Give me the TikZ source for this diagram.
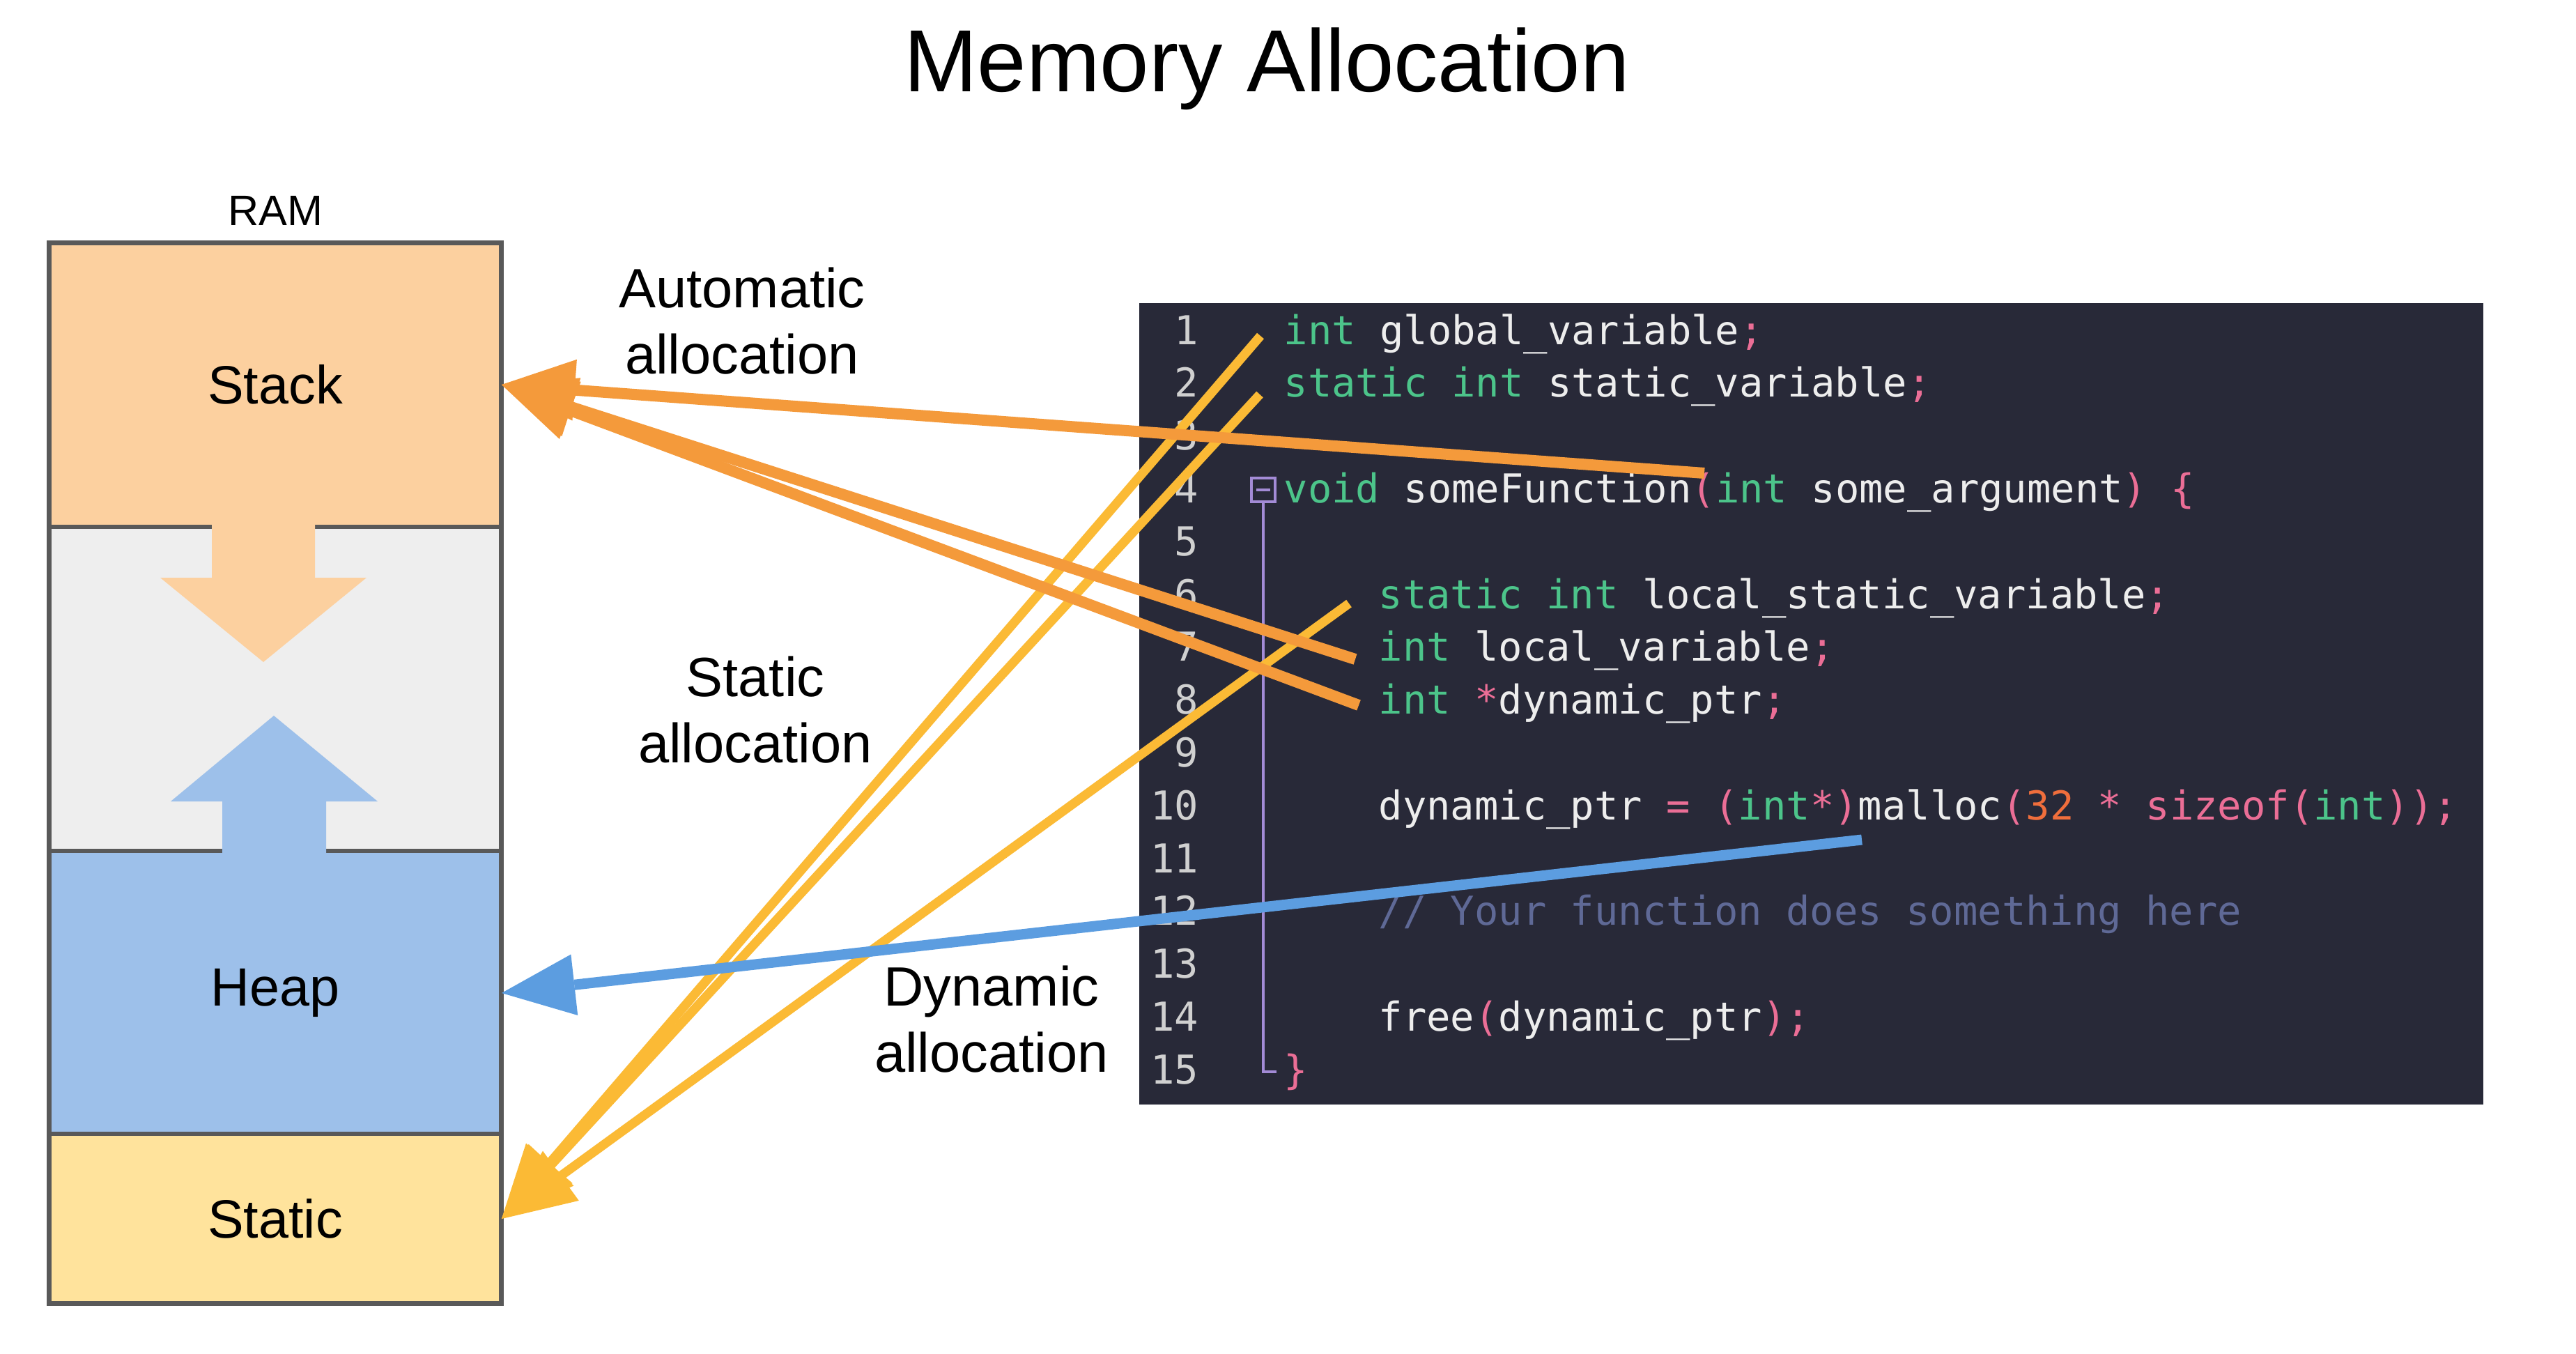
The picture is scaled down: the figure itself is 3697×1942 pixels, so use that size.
\documentclass[tikz,border=0pt]{standalone}
\usepackage{fontspec}
\setmainfont{Liberation Sans}
\newfontfamily\codefont{DejaVu Sans Mono}
\usetikzlibrary{arrows.meta,calc}
\definecolor{stackc}{HTML}{FCD09F}
\definecolor{gapc}{HTML}{EEEEEE}
\definecolor{heapc}{HTML}{9DC0EA}
\definecolor{staticc}{HTML}{FFE39C}
\definecolor{framec}{HTML}{595959}
\definecolor{codebg}{HTML}{282938}
\definecolor{kwc}{HTML}{4CC48A}
\definecolor{pinkc}{HTML}{EB6E96}
\definecolor{numc}{HTML}{F06E3C}
\definecolor{comc}{HTML}{5F6996}
\definecolor{identc}{HTML}{EDEDED}
\definecolor{linenoc}{HTML}{D0D0D0}
\definecolor{foldc}{HTML}{A38BD6}
\definecolor{autoc}{HTML}{F49A3B}
\definecolor{statc}{HTML}{FBBA35}
\definecolor{dync}{HTML}{5C9DE0}
\newcommand{\ckw}[1]{\textcolor{kwc}{#1}}
\newcommand{\cpu}[1]{\textcolor{pinkc}{#1}}
\newcommand{\cnum}[1]{\textcolor{numc}{#1}}
\newcommand{\ccom}[1]{\textcolor{comc}{#1}}
\begin{document}
\begin{tikzpicture}[x=0.01cm,y=-0.01cm,
  region/.style={inner sep=0, minimum width=6.48cm, font=\fontsize{22}{26}\selectfont},
  lbl/.style={inner sep=0, align=center, font=\fontsize{22.6}{27}\selectfont},
  codeline/.style={inner sep=0, anchor=base west, text=identc, font=\codefont\fontsize{16.25}{19}\selectfont},
  lineno/.style={inner sep=0, anchor=base east, text=linenoc, font=\codefont\fontsize{16.25}{19}\selectfont},
  tipshape/.style={-{Triangle[length=1.05cm,width=0.88cm,line width=0pt]}},
  autoline/.style={tipshape, draw=autoc, fill=autoc, line width=0.16cm},
  statline/.style={tipshape, draw=statc, fill=statc, line width=0.13cm},
  dynline/.style={tipshape, draw=dync, fill=dync, line width=0.15cm},
  foldline/.style={draw=foldc, line width=0.045cm}
]
\fill[white] (0,0) rectangle (3697,1942);
\useasboundingbox (0,0) rectangle (3697,1942);

% title
\node[anchor=base, inner sep=0, font=\fontsize{36}{43}\selectfont] (title) at (1818,131) {Memory Allocation};

% RAM
\node[anchor=base, inner sep=0, font=\fontsize{17.4}{21}\selectfont] (ram) at (395,323) {RAM};
\node[region, fill=stackc, minimum height=4.06cm] (stack) at (395,552) {Stack};
\node[region, fill=gapc, minimum height=4.67cm] (gap) at (395,988.5) {};
\node[region, fill=heapc, minimum height=4.06cm] (heap) at (395,1425) {Heap};
\node[region, fill=staticc, minimum height=2.42cm] (static) at (395,1749) {Static};
\draw[framec, line width=0.06cm] (stack.south west) -- (stack.south east);
\draw[framec, line width=0.06cm] (heap.north west) -- (heap.north east);
\draw[framec, line width=0.06cm] (static.north west) -- (static.north east);
% growth arrows
\fill[stackc] (304,745) -- (452,745) -- (452,829) -- (526,829) -- (378,950) -- (230,829) -- (304,829) -- cycle;
\fill[heapc] (319,1232) -- (468,1232) -- (468,1150) -- (542,1150) -- (393,1027) -- (245,1150) -- (319,1150) -- cycle;
\draw[framec, line width=0.07cm] (stack.north west) rectangle (static.south east);

% labels
\node[lbl] (autolbl) at (1065,461) {Automatic\\allocation};
\node[lbl] (statlbl) at (1084,1019) {Static\\allocation};
\node[lbl] (dynlbl) at (1423,1463) {Dynamic\\allocation};

% code box
\node[fill=codebg, inner sep=0, minimum width=19.27cm, minimum height=11.5cm] (codebox) at (2599.5,1010) {};
\foreach \i in {1,...,15} {
  \node[lineno] (n\i) at (1721,{494+(\i-1)*75.8}) {\i};
}
\node[codeline] (c1) at (1842,494) {\ckw{int} global\_variable\cpu{;}};
\node[codeline] (c2) at (1842,569.8) {\ckw{static int} static\_variable\cpu{;}};
\node[codeline] (c4) at (1842,721.4) {\ckw{void} someFunction\cpu{(}\ckw{int} some\_argument\cpu{)} \cpu{\{}};
\node[codeline] (c6) at (1978,873) {\ckw{static int} local\_static\_variable\cpu{;}};
\node[codeline] (c7) at (1978,948.8) {\ckw{int} local\_variable\cpu{;}};
\node[codeline] (c8) at (1978,1024.6) {\ckw{int} \cpu{*}dynamic\_ptr\cpu{;}};
\node[codeline] (c10) at (1978,1176.2) {dynamic\_ptr \cpu{=} \cpu{(}\ckw{int}\cpu{*)}malloc\cpu{(}\cnum{32} \cpu{*} \cpu{sizeof(}\ckw{int}\cpu{));}};
\node[codeline] (c12) at (1978,1327.8) {\ccom{// Your function does something here}};
\node[codeline] (c14) at (1978,1479.4) {free\cpu{(}dynamic\_ptr\cpu{);}};
\node[codeline] (c15) at (1842,1555.2) {\cpu{\}}};

% fold marker
\node[draw=foldc, line width=0.045cm, inner sep=0, minimum size=0.34cm] (fold) at (1813,703) {};
\draw[foldc, line width=0.045cm] ($(fold.center)+(-10,0)$) -- ($(fold.center)+(10,0)$);
\coordinate (foldend) at (1813,1538);
\coordinate (foldtick) at (1832,1538);
\draw[foldline] (fold.south) -- (foldend) -- (foldtick);

% connector start points
\coordinate (s1) at (1809,482);
\coordinate (s2) at (1808,566);
\coordinate (s3) at (1936,866);
\coordinate (a1) at (2446,679);
\coordinate (a2) at (1945,946);
\coordinate (a3) at (1950,1012);
\coordinate (d1) at (2672,1205);

% static allocation
\draw[statline] (s1) -- (static.east);
\draw[statline] (s2) -- (static.east);
\draw[statline] (s3) -- (static.east);
% automatic allocation
\draw[autoline] (a1) -- (stack.east);
\draw[autoline] (a2) -- (stack.east);
\draw[autoline] (a3) -- (stack.east);
% dynamic allocation
\draw[dynline] (d1) -- (heap.east);
\end{tikzpicture}
\end{document}
